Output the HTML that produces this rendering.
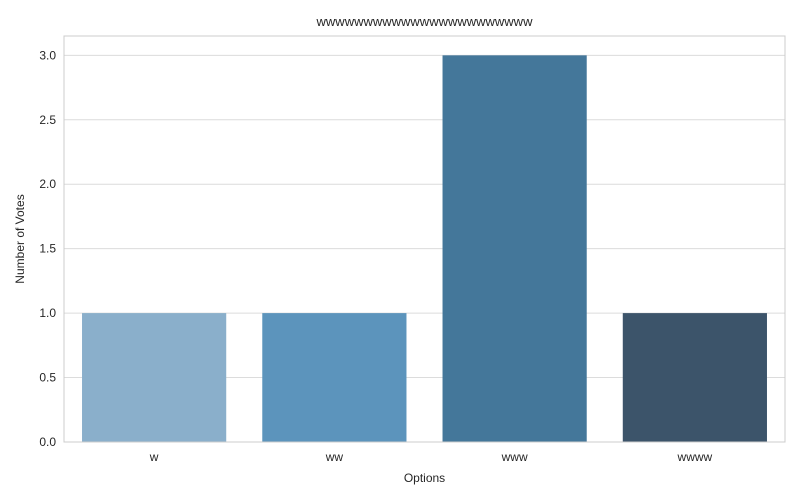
<!DOCTYPE html>
<html><head><meta charset="utf-8"><style>
body{margin:0;background:#fff;}
svg{display:block;font-family:"Liberation Sans",Arial,sans-serif;}
</style></head><body>
<svg id="chart" width="800" height="500"></svg>
<script>
const categories = ["w","ww","www","wwww"];
const votes = [1,1,3,1];
const barColors = ["#8aafcb","#5c94bc","#44779a","#3c546a"];
const yTicks = [0,0.5,1,1.5,2,2.5,3];
const yTickLabels = ["0.0","0.5","1.0","1.5","2.0","2.5","3.0"];

const NS="http://www.w3.org/2000/svg";
const svg=document.getElementById('chart');
const L=64,R=785,T=36,B=442,yMax=3.15;
const y=v=>B-(v/yMax)*(B-T);
const band=(R-L)/categories.length;
const x=i=>L+band*i+band/2;
function mk(tag,attrs,text){const e=document.createElementNS(NS,tag);for(const k in attrs)e.setAttribute(k,attrs[k]);if(text!==undefined)e.textContent=text;svg.appendChild(e);return e;}

yTicks.forEach((t,i)=>{
  const g=mk('line',{x1:L,x2:R,y1:y(t),y2:y(t),stroke:'#dcdcdc','stroke-width':1});
  
  
  const l=mk('text',{x:L-8,y:y(t)+4,'text-anchor':'end','font-size':12,fill:'#262626'},yTickLabels[i]);
  
  
});
categories.forEach((c,i)=>{
  const bw=band*0.8;
  const b=mk('rect',{x:x(i)-bw/2,y:y(votes[i]),width:bw,height:B-y(votes[i]),fill:barColors[i]});
  
  
  const l=mk('text',{x:x(i),y:B+19,'text-anchor':'middle','font-size':12,fill:'#262626'},c);
  
  
});
const fr=mk('rect',{x:L,y:T,width:R-L,height:B-T,fill:'none',stroke:'#cccccc','stroke-width':1});


const ti=mk('text',{x:(L+R)/2,y:26,'text-anchor':'middle','font-size':13,fill:'#262626'},'wwwwwwwwwwwwwwwwwwwwwww');


const xt=mk('text',{x:(L+R)/2,y:482,'text-anchor':'middle','font-size':12,fill:'#262626'},'Options');


const yt=mk('text',{x:24,y:(T+B)/2,'text-anchor':'middle','font-size':12,fill:'#262626',transform:'rotate(-90 24 '+((T+B)/2)+')'},'Number of Votes');


</script>
</body></html>
